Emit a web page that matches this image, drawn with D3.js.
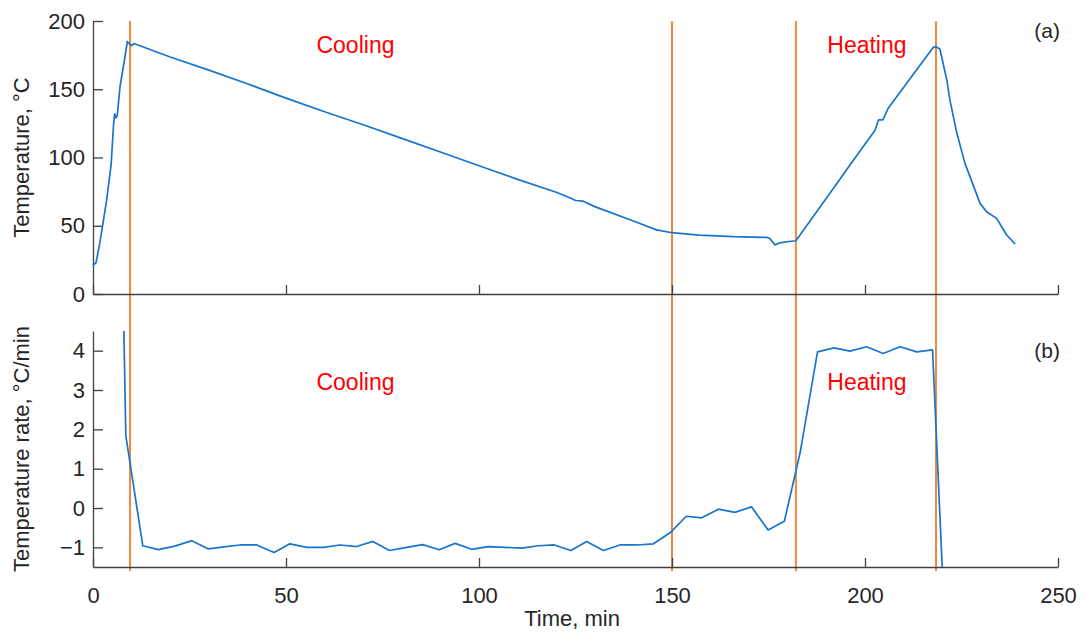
<!DOCTYPE html>
<html>
<head>
<meta charset="utf-8">
<script src="https://cdn.jsdelivr.net/npm/d3@7"></script>
<style>
    body { margin: 0; background: #fff; }
    svg { font-family: "Liberation Sans", Arial, sans-serif; }
    .axis path, .axis line { stroke: #404040; stroke-width: 1.3px; }
    .axis text { fill: #262626; font-size: 22px; font-family: "Liberation Sans", Arial, sans-serif; }
</style>
</head>
<body>
<svg id="viz1" width="1086" height="633"></svg>
<script>
// temperature curve (a)
var tempTime = [0, 0.8, 1.8, 3.5, 4.7, 5.3, 5.6, 6.0, 6.3, 7.0, 8.3, 8.9, 9.5, 10.0, 10.6,
    20, 30, 40, 50, 60, 70, 80, 90, 100, 110, 120, 124, 125, 127, 130, 140, 146, 150,
    157, 166, 174.5, 175.2, 176.7, 178, 179.7, 182.1,
    193.5, 196.1, 202.6, 203.5, 204.6, 206, 217.7, 218.4, 219.4,
    221.2, 222, 223.8, 225.9, 227.2, 229.8, 231.5, 234.1, 236.7, 238.9];
var tempValue = [21, 23, 38, 68, 95, 123, 132, 129, 131, 152, 174, 185, 183, 182, 183.5,
    173.6, 164, 154, 143.5, 133.5, 124, 114, 104, 94, 84, 74.5, 70, 68.5, 68, 64, 53.5, 47, 44.9,
    43.2, 42, 41.5, 41, 36, 37.5, 38.3, 39,
    84, 94.5, 120, 127.5, 127.5, 136, 180.7, 181.2, 179.5,
    156.8, 142, 117.7, 95.7, 86, 66.4, 60.3, 55.4, 43.2, 36.6];

// temperature rate curve (b)
var rateTime = [8.0, 8.5, 12.9, 16.9, 21.2, 25.6, 29.9, 33.9, 38.1, 42.4, 46.9, 51.0, 55.4, 59.7,
    64.0, 68.3, 72.5, 76.8, 81.3, 85.4, 89.7, 93.8, 98.1, 102.4, 106.7, 111.1, 115.4, 119.5,
    123.8, 127.9, 132.2, 136.5, 140.9, 145.2, 149.5, 153.7, 157.7, 162.0, 166.3, 170.6, 174.9,
    179.1, 183.2, 187.7, 192.0, 196.1, 200.4, 204.7, 209.1, 213.4, 217.5, 220.0];
var rateValue = [4.5, 1.84, -0.96, -1.06, -0.97, -0.83, -1.04, -0.99, -0.94, -0.94, -1.13, -0.91, -1.0, -1.0,
    -0.94, -0.98, -0.85, -1.08, -1.0, -0.93, -1.06, -0.9, -1.05, -0.98, -1.0, -1.02, -0.96, -0.94,
    -1.08, -0.85, -1.08, -0.94, -0.94, -0.91, -0.63, -0.21, -0.25, -0.03, -0.11, 0.03, -0.56,
    -0.34, 1.41, 3.97, 4.07, 3.99, 4.1, 3.93, 4.1, 3.97, 4.02, -1.5];

var stageLines = [9.6, 150, 182.1, 218.4];
var stageLabels = [
    {text: "Cooling", t: 68},
    {text: "Heating", t: 200.5}
];

var xTicks = [0, 50, 100, 150, 200, 250];
var tempTicks = [0, 50, 100, 150, 200];
var rateTicks = [-1, 0, 1, 2, 3, 4];

var svg, xScale, yTemp, yRate;

document.addEventListener('DOMContentLoaded', function () {

    svg = d3.select("#viz1");

    xScale = d3.scaleLinear().domain([0, 250]).range([93, 1058]);
    yTemp = d3.scaleLinear().domain([0, 200]).range([294, 21]);
    yRate = d3.scaleLinear().domain([-1.5, 4.5]).range([567, 331]);

    // orange stage markers, spanning both panels
    svg.append("g")
        .selectAll("line")
        .data(stageLines)
        .enter()
        .append("line")
        .attr("x1", d => xScale(d))
        .attr("x2", d => xScale(d))
        .attr("y1", yTemp(200))
        .attr("y2", yRate(-1.5) + 4)
        .style("stroke", "#f0883e")
        .style("stroke-width", "2px");

    drawPanelA();
    drawPanelB();

    // axis titles
    svg.append('text')
        .attr('transform', `translate(29,${(yTemp(0) + yTemp(200)) / 2}) rotate(-90)`)
        .style('text-anchor', 'middle')
        .style('font-size', '22px')
        .style('fill', '#262626')
        .text("Temperature, °C");

    svg.append('text')
        .attr('transform', `translate(29,${(yRate(-1.5) + yRate(4.5)) / 2}) rotate(-90)`)
        .style('text-anchor', 'middle')
        .style('font-size', '22px')
        .style('fill', '#262626')
        .text("Temperature rate, °C/min");

    svg.append('text')
        .attr('x', 572)
        .attr('y', 626)
        .style('text-anchor', 'middle')
        .style('font-size', '22px')
        .style('fill', '#262626')
        .text("Time, min");
});

function drawPanelA() {
    let g = svg.append("g");

    let yAxis = d3.axisLeft(yTemp).tickValues(tempTicks).tickSizeInner(-10).tickSizeOuter(0).tickPadding(8);
    g.append("g").attr("class", "axis")
        .attr("transform", `translate(${xScale(0)},0)`)
        .call(yAxis);

    let xAxis = d3.axisBottom(xScale).tickValues(xTicks).tickSizeInner(-9).tickSizeOuter(0).tickFormat("");
    g.append("g").attr("class", "axis")
        .attr("transform", `translate(0,${yTemp(0)})`)
        .call(xAxis);

    let pts = tempTime.map((t, i) => [t, tempValue[i]]);
    let line = d3.line().x(d => xScale(d[0])).y(d => yTemp(d[1]));
    g.append("path")
        .datum(pts)
        .attr("d", line)
        .style("fill", "none")
        .style("stroke", "#1874cd")
        .style("stroke-width", "1.7px")
        .style("stroke-linejoin", "round");

    g.selectAll(".stage")
        .data(stageLabels)
        .enter()
        .append("text")
        .attr("x", d => xScale(d.t))
        .attr("y", 53)
        .style("text-anchor", "middle")
        .style("font-size", "23px")
        .style("fill", "#ff0000")
        .text(d => d.text);

    g.append("text")
        .attr("x", 1060)
        .attr("y", 38)
        .style("text-anchor", "end")
        .style("font-size", "21px")
        .style("fill", "#262626")
        .text("(a)");
}

function drawPanelB() {
    let g = svg.append("g");

    let yAxis = d3.axisLeft(yRate).tickValues(rateTicks).tickSizeInner(-10).tickSizeOuter(0).tickPadding(8)
        .tickFormat(d => d < 0 ? "\u2212" + Math.abs(d) : d);
    g.append("g").attr("class", "axis")
        .attr("transform", `translate(${xScale(0)},0)`)
        .call(yAxis);

    let xAxis = d3.axisBottom(xScale).tickValues(xTicks).tickSizeInner(-9).tickSizeOuter(0).tickPadding(20);
    g.append("g").attr("class", "axis")
        .attr("transform", `translate(0,${yRate(-1.5)})`)
        .call(xAxis);

    let pts = rateTime.map((t, i) => [t, rateValue[i]]);
    let line = d3.line().x(d => xScale(d[0])).y(d => yRate(d[1]));
    g.append("path")
        .datum(pts)
        .attr("d", line)
        .style("fill", "none")
        .style("stroke", "#1874cd")
        .style("stroke-width", "1.7px")
        .style("stroke-linejoin", "round");

    g.selectAll(".stage")
        .data(stageLabels)
        .enter()
        .append("text")
        .attr("x", d => xScale(d.t))
        .attr("y", 390)
        .style("text-anchor", "middle")
        .style("font-size", "23px")
        .style("fill", "#ff0000")
        .text(d => d.text);

    g.append("text")
        .attr("x", 1060)
        .attr("y", 358)
        .style("text-anchor", "end")
        .style("font-size", "21px")
        .style("fill", "#262626")
        .text("(b)");
}
</script>
</body>
</html>
